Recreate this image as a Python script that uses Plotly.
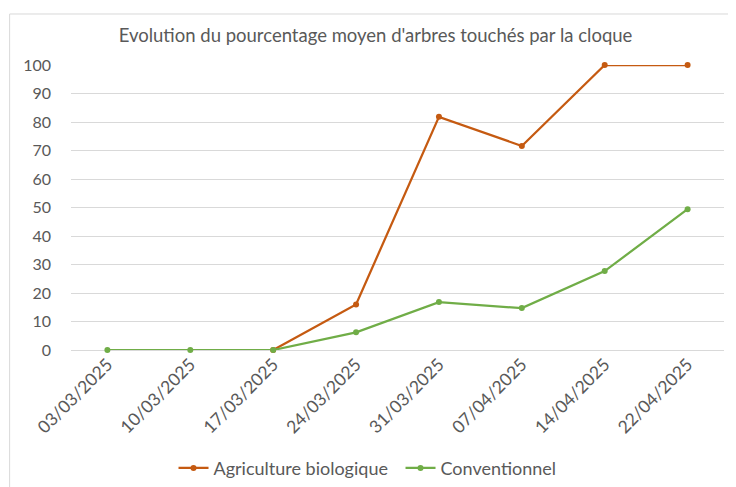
import plotly.graph_objects as go

dates = ['03/03/2025', '10/03/2025', '17/03/2025', '24/03/2025',
         '31/03/2025', '07/04/2025', '14/04/2025', '22/04/2025']
bio = [None, None, 0, 16, 81.8, 71.6, 100, 100]
conv = [0, 0, 0, 6.2, 16.8, 14.7, 27.7, 49.4]

grey = '#595959'
font = 'Lato'

fig = go.Figure()
fig.add_trace(go.Scatter(x=dates, y=bio, name='Agriculture biologique', mode='lines+markers',
                         line=dict(color='#C55A11', width=2.25), marker=dict(size=6),
                         cliponaxis=False))
fig.add_trace(go.Scatter(x=dates, y=conv, name='Conventionnel', mode='lines+markers',
                         line=dict(color='#70AD47', width=2.25), marker=dict(size=6),
                         cliponaxis=False))

# page body has an 8px margin, so everything is shifted up/left by 8
fig.update_layout(
    width=736, height=487,
    margin=dict(l=63, r=20, t=57, b=145, autoexpand=False),
    plot_bgcolor='white', paper_bgcolor='white',
    font=dict(family=font, color=grey, size=16),
    title=dict(text="Evolution du pourcentage moyen d'arbres touchés par la cloque",
               x=0.4993, xanchor='center', y=0.9425, yanchor='middle',
               font=dict(size=18.5, color=grey, family=font)),
    legend=dict(orientation='h', x=0.157, xanchor='left', y=-0.415, yanchor='middle',
                font=dict(size=18, color=grey), itemwidth=30, entrywidth=182),
    showlegend=True,
)
fig.update_xaxes(type='category', tickangle=-45, showgrid=False, showline=False,
                 ticks='', automargin=False, tickfont=dict(size=17.5, color=grey))
fig.update_yaxes(range=[0, 100], dtick=10, gridcolor='#D9D9D9', gridwidth=1,
                 zeroline=True, zerolinecolor='#D9D9D9', zerolinewidth=1,
                 showline=False, ticks='', ticklabelstandoff=19, automargin=False,
                 tickfont=dict(size=16, color=grey))
fig.add_shape(type='rect', xref='paper', yref='paper',
              x0=-0.094, x1=1.05, y0=-0.6, y1=1.179,
              line=dict(color='#D9D9D9', width=1), fillcolor='rgba(0,0,0,0)', layer='below')

fig.write_html('out.html')
